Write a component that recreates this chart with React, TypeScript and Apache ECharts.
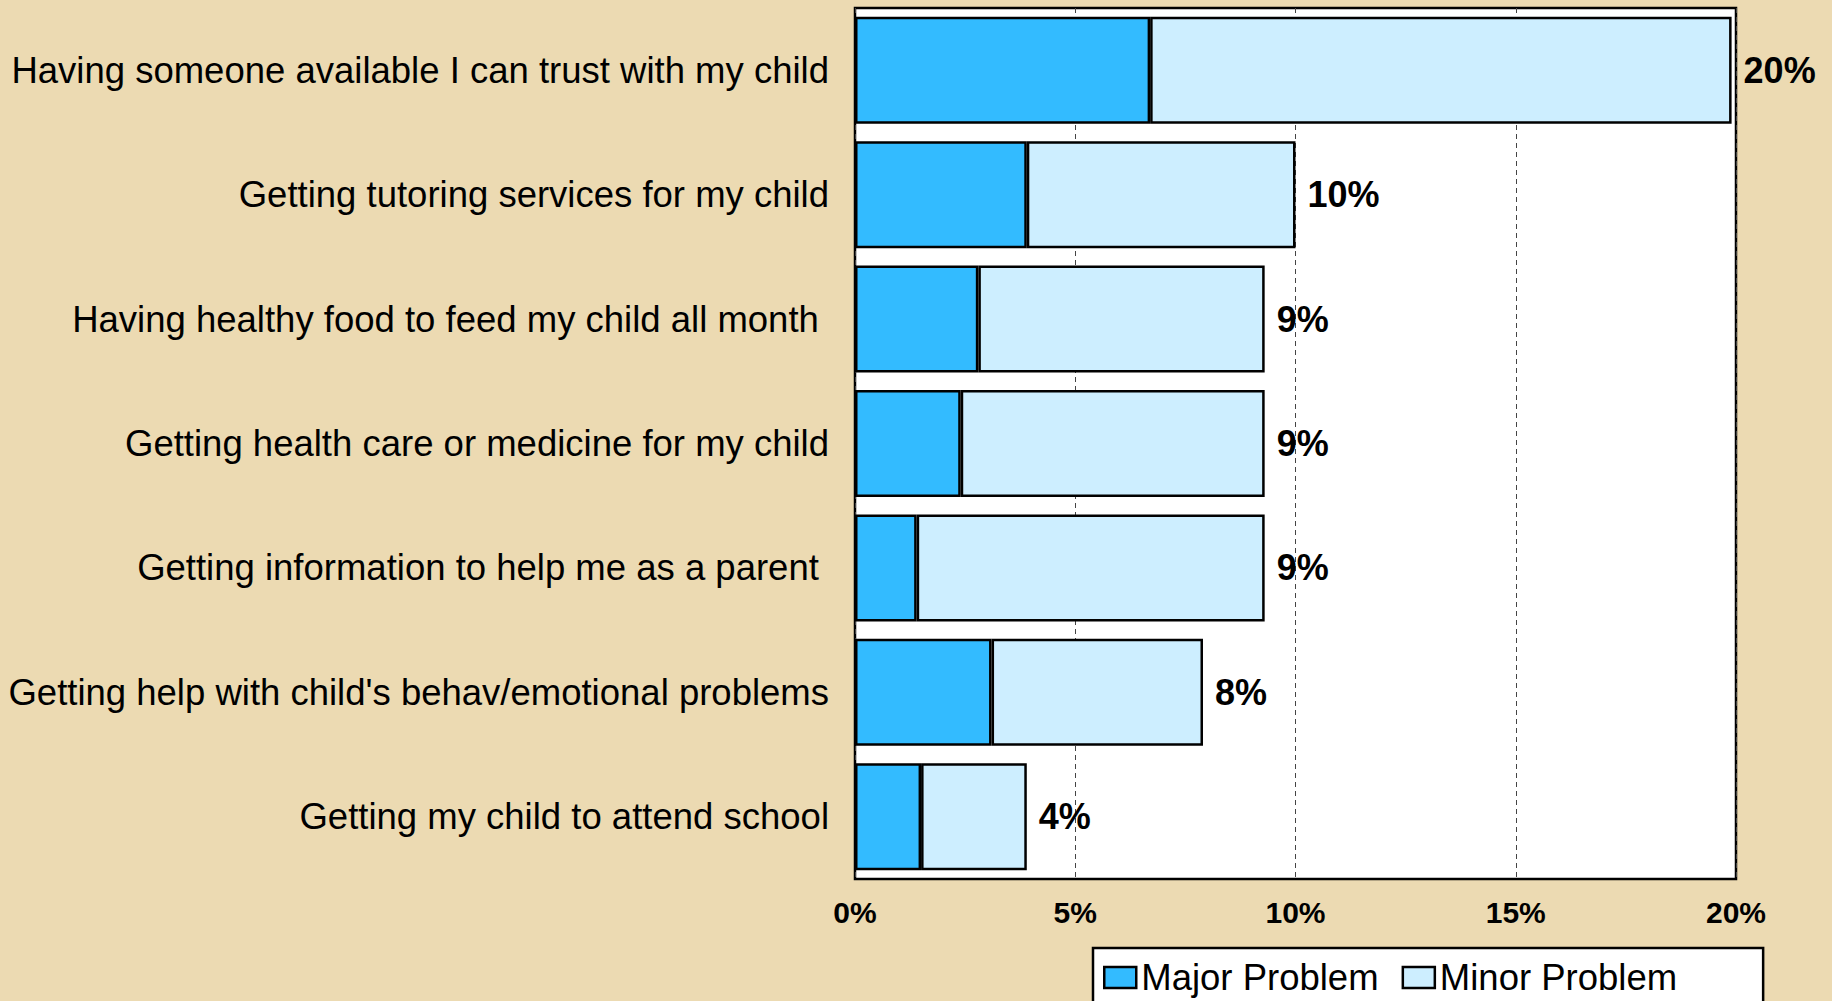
import React, { useEffect, useRef } from "react";
import * as echarts from "echarts";

const categories = [
  "Having someone available I can trust with my child",
  "Getting tutoring services for my child",
  "Having healthy food to feed my child all month ",
  "Getting health care or medicine for my child",
  "Getting information to help me as a parent ",
  "Getting help with child's behav/emotional problems",
  "Getting my child to attend school",
];
const majorProblem = [6.7, 3.9, 2.8, 2.4, 1.4, 3.1, 1.5];
const minorProblem = [13.2, 6.1, 6.5, 6.9, 7.9, 4.8, 2.4];
const seriesNames = ["Major Problem", "Minor Problem"];
const xTicks = { min: 0, max: 20, interval: 5 };

const FONT = "'Liberation Sans', Arial, Helvetica, sans-serif";

export default function App() {
  const ref = useRef<HTMLDivElement>(null);
  useEffect(() => {
    document.body.style.margin = "0";
    const chart = echarts.init(ref.current!, undefined, { renderer: "svg" });
    chart.setOption({
      animation: false,
      backgroundColor: "#ecdab2",
      grid: {
        left: 855,
        right: 96,
        top: 8,
        bottom: 122,
        show: true,
        backgroundColor: "#ffffff",
        borderColor: "#000000",
        borderWidth: 2.5,
      },
      legend: {
        data: seriesNames,
        left: 1093,
        top: 948,
        orient: "horizontal",
        itemWidth: 32,
        itemHeight: 21,
        itemGap: 23,
        padding: [11, 86, 33, 10],
        backgroundColor: "#ffffff",
        borderColor: "#000000",
        borderWidth: 2.5,
        icon: "rect",
        itemStyle: { borderColor: "#000", borderWidth: 2.5 },
        textStyle: {
          fontSize: 36.5,
          fontFamily: FONT,
          color: "#000",
          lineHeight: 30,
        },
      },
      xAxis: {
        type: "value",
        min: xTicks.min,
        max: xTicks.max,
        interval: xTicks.interval,
        axisLine: { show: false },
        axisTick: { show: false },
        axisLabel: {
          formatter: "{value}%",
          fontSize: 30,
          fontWeight: "bold",
          fontFamily: FONT,
          color: "#000",
          margin: 18,
        },
        splitLine: {
          show: true,
          lineStyle: { color: "#444", width: 1, type: [5, 4] },
        },
      },
      yAxis: {
        type: "category",
        data: categories,
        inverse: true,
        axisLine: { show: false },
        axisTick: { show: false },
        axisLabel: {
          fontSize: 36.5,
          fontFamily: FONT,
          color: "#000",
          margin: 26,
        },
      },
      series: [
        {
          name: seriesNames[0],
          type: "bar",
          stack: "total",
          data: majorProblem,
          barCategoryGap: "14%",
          itemStyle: { color: "#33bbff", borderColor: "#000", borderWidth: 2.5 },
        },
        {
          name: seriesNames[1],
          type: "bar",
          stack: "total",
          data: minorProblem,
          barCategoryGap: "14%",
          itemStyle: { color: "#cdeeff", borderColor: "#000", borderWidth: 2.5 },
          label: {
            show: true,
            position: "right",
            distance: 12,
            fontSize: 36,
            fontWeight: "bold",
            fontFamily: FONT,
            color: "#000",
            formatter: (p: any) =>
              Math.round(majorProblem[p.dataIndex] + minorProblem[p.dataIndex]) + "%",
          },
        },
      ],
    });
    return () => chart.dispose();
  }, []);
  return (
    <div
      ref={ref}
      style={{ position: "fixed", left: 0, top: 0, width: 1832, height: 1001 }}
    />
  );
}
